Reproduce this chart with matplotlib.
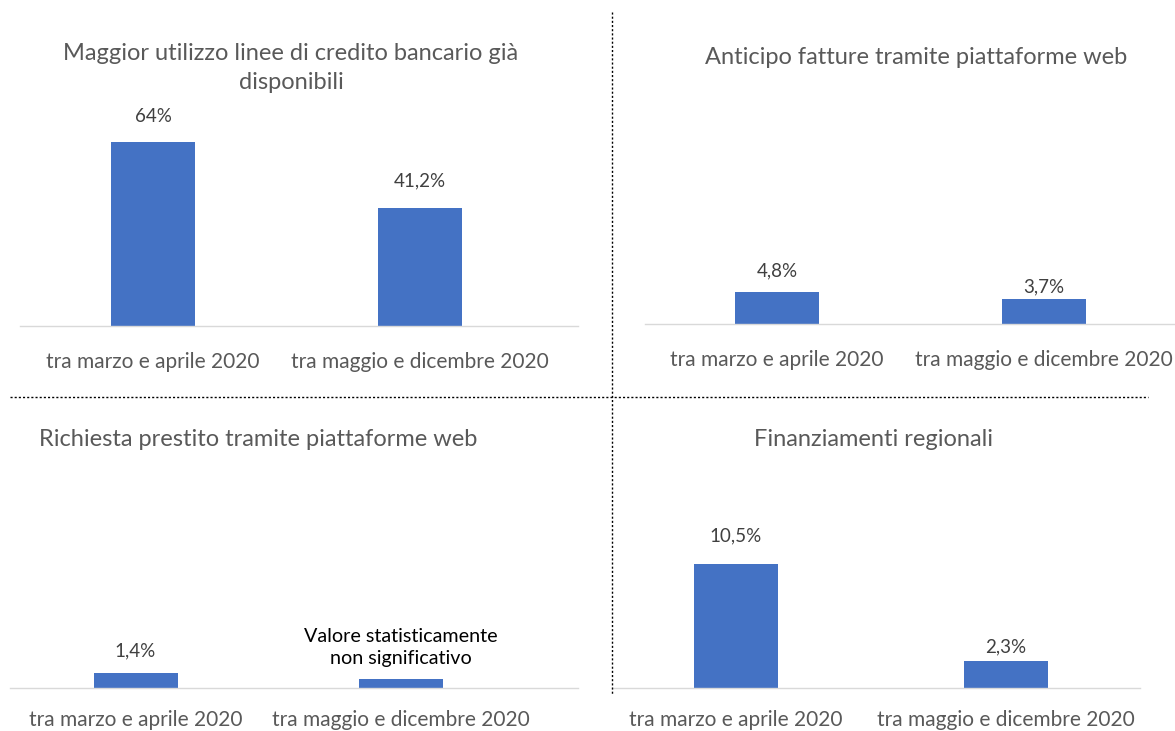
import matplotlib
matplotlib.use("Agg")
import matplotlib.pyplot as plt
from matplotlib.lines import Line2D

plt.rcParams['font.family'] = ['Lato', 'DejaVu Sans']

# ---- data ----
categories = ["tra marzo e aprile 2020", "tra maggio e dicembre 2020"]
titles = ["Maggior utilizzo linee di credito bancario già\ndisponibili",
          "Anticipo fatture tramite piattaforme web",
          "Richiesta prestito tramite piattaforme web",
          "Finanziamenti regionali"]
credito_bancario = [64.0, 41.2]
anticipo_fatture = [4.8, 3.7]
prestito_web = [1.4, 0.8]
finanziamenti_regionali = [10.5, 2.3]
value_labels = [["64%", "41,2%"], ["4,8%", "3,7%"], ["1,4%", None], ["10,5%", "2,3%"]]
note_text = "Valore statisticamente\nnon significativo"

W, H = 1175, 731
fig = plt.figure(figsize=(W / 100, H / 100), dpi=100)
fig.patch.set_facecolor("white")

BAR = "#4472C4"
GREY = "#595959"
DARK = "#404040"

# panel geometry in pixels: left, right, baseline, px per unit, centers, title pos, label offsets (px)
panels = [
    dict(vals=credito_bancario, L=20, R=578, base=326, ppu=184 / 64.0, c=(153, 420),
         title=(291, 68), offs=(26, 27), pad=19),
    dict(vals=anticipo_fatture, L=645, R=1175, base=324, ppu=32 / 4.8, c=(777, 1043.5),
         title=(916, 57), offs=(21, 12), pad=19),
    dict(vals=prestito_web, L=10, R=578, base=688, ppu=15 / 1.4, c=(135.5, 401),
         title=(258, 440), offs=(22, 0), pad=16),
    dict(vals=finanziamenti_regionali, L=612, R=1140, base=688, ppu=124 / 10.5, c=(735.5, 1005.5),
         title=(873, 440), offs=(28, 14), pad=16),
]

for k, p in enumerate(panels):
    top = p['base'] - 220
    ax = fig.add_axes([p['L'] / W, 1 - p['base'] / H, (p['R'] - p['L']) / W, (p['base'] - top) / H])
    unit = p['c'][1] - p['c'][0]
    ax.set_xlim((p['L'] - p['c'][0]) / unit, 1 + (p['R'] - p['c'][1]) / unit)
    ax.set_ylim(0, (p['base'] - top) / p['ppu'])
    x = list(range(len(categories)))
    ax.bar(x, p['vals'], width=84 / unit, color=BAR, zorder=2)
    for s in ['top', 'left', 'right']:
        ax.spines[s].set_visible(False)
    ax.spines['bottom'].set_color("#d9d9d9")
    ax.spines['bottom'].set_linewidth(1.0)
    ax.set_yticks([])
    ax.set_xticks(x)
    ax.set_xticklabels(categories, fontsize=15, color=GREY)
    ax.tick_params(axis='x', length=0, pad=p['pad'])
    ax.patch.set_alpha(0)
    for i, v in enumerate(p['vals']):
        lab = value_labels[k][i]
        if lab is None:
            continue
        ax.annotate(lab, (i, v), xytext=(0, p['offs'][i] * 0.72), textcoords='offset points',
                    ha='center', va='center', fontsize=13.5, color=DARK)
    if k == 2:
        ax.annotate(note_text, (1, p['vals'][1]), xytext=(0, 32 * 0.72), textcoords='offset points',
                    ha='center', va='center', fontsize=14.2, color="black", linespacing=1.3)
    tx, ty = p['title']
    fig.text(tx / W, 1 - ty / H, titles[k], ha='center', va='center', fontsize=17,
             color=GREY, linespacing=1.5)

# dotted separators
fig.add_artist(Line2D([612 / W, 612 / W], [1 - 12 / H, 1 - 695 / H], transform=fig.transFigure,
                      color="black", linestyle=(0, (1.5, 1.5)), linewidth=1.0))
fig.add_artist(Line2D([10 / W, 1148 / W], [1 - 397 / H, 1 - 397 / H], transform=fig.transFigure,
                      color="black", linestyle=(0, (1.5, 1.5)), linewidth=1.0))

fig.savefig("out.png", dpi=100, facecolor="white")
